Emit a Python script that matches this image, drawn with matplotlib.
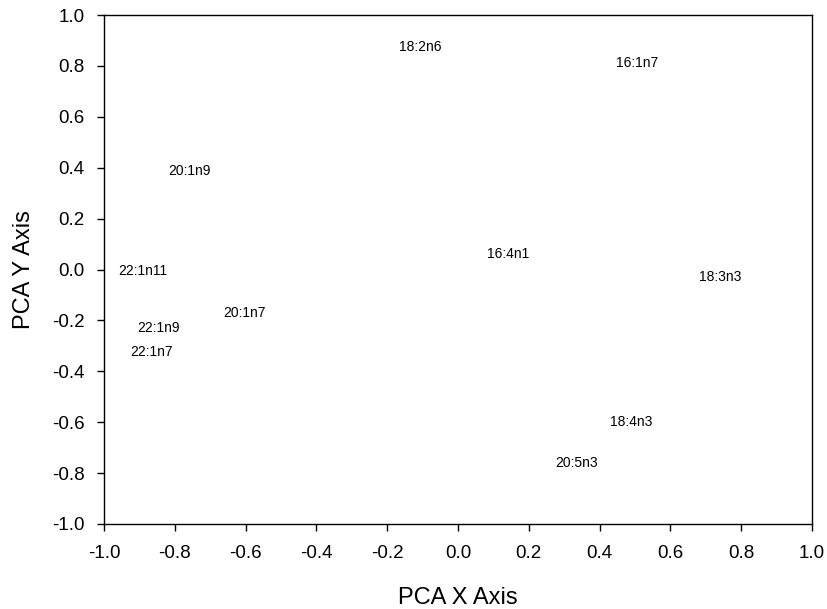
import matplotlib
matplotlib.use('Agg')
import matplotlib.pyplot as plt

# PCA loadings for each fatty acid
labels = ['18:2n6', '16:1n7', '20:1n9', '16:4n1', '22:1n11', '18:3n3',
          '20:1n7', '22:1n9', '22:1n7', '18:4n3', '20:5n3']
pc_x = [-0.107, 0.506, -0.760, 0.141, -0.890, 0.740,
        -0.602, -0.847, -0.867, 0.489, 0.336]
pc_y = [0.874, 0.810, 0.387, 0.061, -0.006, -0.029,
        -0.171, -0.230, -0.324, -0.599, -0.760]

plt.rcParams['font.family'] = ['Liberation Sans', 'DejaVu Sans']

fig = plt.figure(figsize=(8.28, 6.09), dpi=100)
ax = fig.add_axes([104 / 828, 1 - 524 / 609, 708 / 828, 509 / 609])

for name, x, y in zip(labels, pc_x, pc_y):
    ax.text(x, y, name, ha='center', va='center', fontsize=10)

ax.set_xlim(-1.0, 1.0)
ax.set_ylim(-1.0, 1.0)
ticks = [-1.0, -0.8, -0.6, -0.4, -0.2, 0.0, 0.2, 0.4, 0.6, 0.8, 1.0]
ax.set_xticks(ticks)
ax.set_yticks(ticks)
ax.set_xticklabels([f'{t:.1f}' for t in ticks])
ax.set_yticklabels([f'{t:.1f}' for t in ticks])
ax.tick_params(direction='out', length=5, width=1, labelsize=13.5,
               top=False, right=False)
ax.tick_params(axis='x', pad=10)
ax.tick_params(axis='y', pad=9)
for sp in ax.spines.values():
    sp.set_linewidth(1.0)

ax.set_xlabel('PCA X Axis', fontsize=17, labelpad=18)
ax.set_ylabel('PCA Y Axis', fontsize=17, labelpad=12.5)

fig.savefig('out.png', dpi=100)
